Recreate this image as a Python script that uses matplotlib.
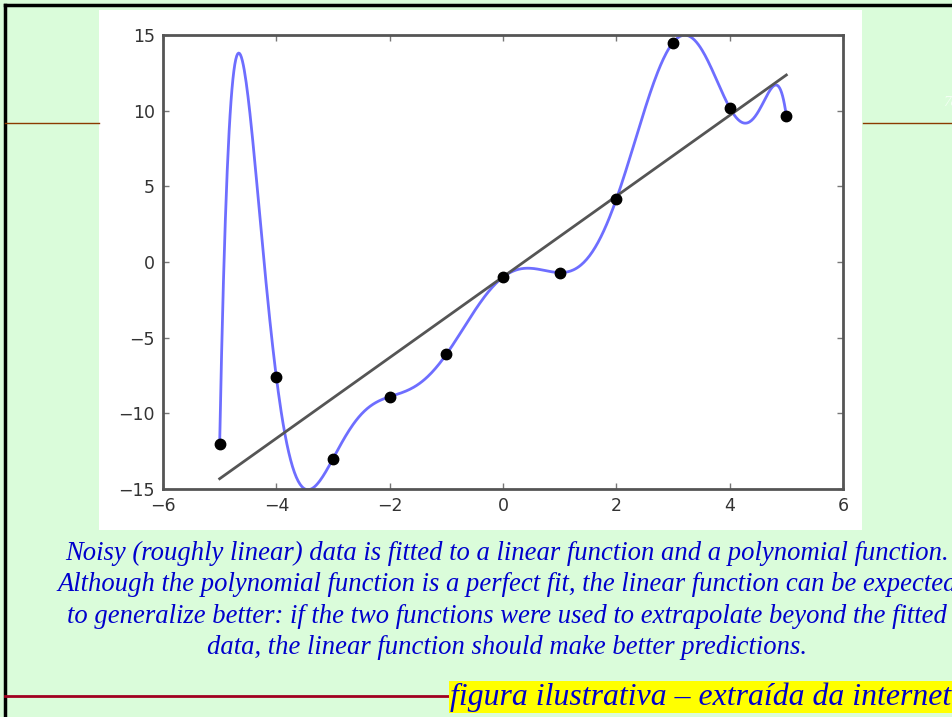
import numpy as np
import matplotlib
matplotlib.use("Agg")
import matplotlib.pyplot as plt
from matplotlib.patches import Rectangle
from matplotlib.lines import Line2D

# dados
x_pts = np.array([-5, -4, -3, -2, -1, 0, 1, 2, 3, 4, 5])
y_pts = np.array([-12.0, -7.6, -13.0, -8.9, -6.1, -1.0, -0.7, 4.15, 14.5, 10.2, 9.65])

xticks = [-6, -4, -2, 0, 2, 4, 6]
yticks = [-15, -10, -5, 0, 5, 10, 15]

caption = ("Noisy (roughly linear) data is fitted to a linear function and a polynomial function.\n"
           "Although the polynomial function is a perfect fit, the linear function can be expected\n"
           "to generalize better: if the two functions were used to extrapolate beyond the fitted\n"
           "data, the linear function should make better predictions.")
source_txt = "figura ilustrativa \u2013 extraída da internet"

W, H = 953, 717
fig = plt.figure(figsize=(W / 100, H / 100), dpi=100)
fig.patch.set_facecolor('#DAFCDA')

def fx(px):
    return px / W

def fy(py):
    return 1 - py / H

# area branca da imagem
fig.patches.append(Rectangle((fx(99), fy(530)), fx(862) - fx(99), fy(10) - fy(530),
                             transform=fig.transFigure, facecolor='white', edgecolor='none', zorder=-1))

# bordas e linhas do slide
fig.lines.append(Line2D([fx(5), 1], [fy(5), fy(5)], transform=fig.transFigure, color='black', lw=2.5))
fig.lines.append(Line2D([fx(5), fx(5)], [fy(5), 0], transform=fig.transFigure, color='black', lw=2.5))
fig.lines.append(Line2D([fx(5), fx(99)], [fy(123), fy(123)], transform=fig.transFigure, color='#8B3A00', lw=1))
fig.lines.append(Line2D([fx(863), 1], [fy(123), fy(123)], transform=fig.transFigure, color='#8B3A00', lw=1))
fig.lines.append(Line2D([fx(5), fx(450)], [fy(696), fy(696)], transform=fig.transFigure, color='#A00020', lw=2))

ax = fig.add_axes([fx(163), fy(489), fx(843) - fx(163), fy(35) - fy(489)])
ax.set_zorder(1)

# ajuste linear e polinomial (grau 10, passa por todos os pontos)
lin = np.polyfit(x_pts, y_pts, 1)
poly = np.polyfit(x_pts, y_pts, len(x_pts) - 1)
xs = np.linspace(x_pts.min(), x_pts.max(), 600)

ax.plot(xs, np.polyval(poly, xs), color='#5555FF', lw=2, alpha=0.85, zorder=2)
ax.plot(x_pts, np.polyval(lin, x_pts), color='#555555', lw=2, zorder=3)
ax.plot(x_pts, y_pts, 'o', color='black', markersize=7.5, zorder=4)

ax.set_xlim(-6, 6)
ax.set_ylim(-15, 15)
ax.set_xticks(xticks)
ax.set_yticks(yticks)
ax.tick_params(direction='in', length=4, width=1, colors='#777777', labelcolor='#333333',
               labelsize=12.5, top=True, right=True, pad=6)
for s in ax.spines.values():
    s.set_color('#555555')
    s.set_linewidth(2)

fig.text(0.532, fy(541), caption, ha='center', va='top', family='Liberation Serif',
         style='italic', fontsize=19.2, color='#0000CC', linespacing=1.33)

fig.text(fx(450), fy(697), source_txt, ha='left', va='center', family='Liberation Serif',
         style='italic', fontsize=22.9, color='#0000CC',
         bbox=dict(facecolor='#FFFF00', edgecolor='none', pad=1))

fig.text(fx(943), fy(103), '78', color='#F2FFF2', fontsize=11, style='italic',
         family='Liberation Serif', va='center')

fig.savefig('out.png', dpi=100, facecolor=fig.get_facecolor())
